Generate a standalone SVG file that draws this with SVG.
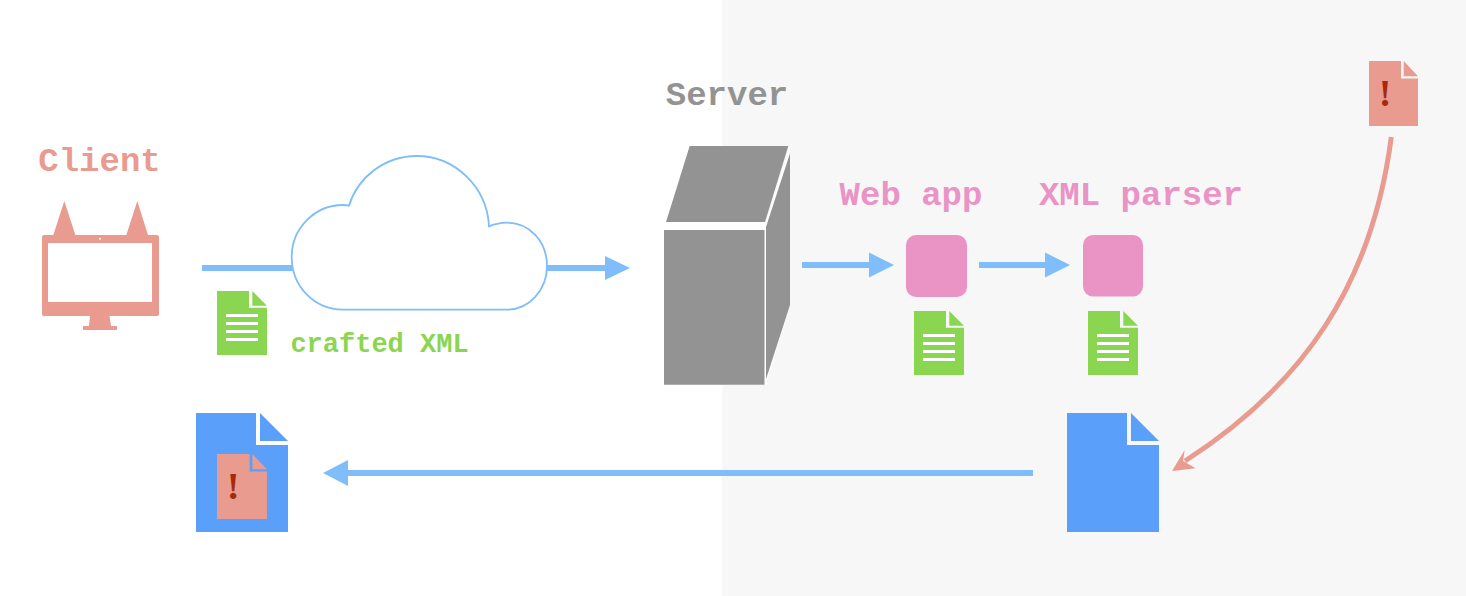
<svg xmlns="http://www.w3.org/2000/svg" xmlns:xlink="http://www.w3.org/1999/xlink" width="1466" height="596" viewBox="0 0 1466 596">
<style>
.lbl{font-family:"Liberation Mono","Courier New",monospace;font-weight:700;font-size:34px;text-anchor:middle}
.flow{fill:none;stroke:#7fbdfb;stroke-width:6}
.head{fill:#7fbdfb}
.ex{font-family:"Liberation Serif","Times New Roman",serif;font-weight:700;font-size:38px;fill:#a52a10;text-anchor:middle}
</style>
<defs>
<g id="greendoc">
<path d="M0 0H32V16.700H50V64H0Z" fill="#8bd650"/>
<path d="M35.300 0L50 14.700H35.300Z" fill="#8bd650"/>
<path d="M9 23H41V26H9ZM9 31H41V34H9ZM9 39H41V42H9ZM9 47H41V50H9Z" fill="#fff"/>
</g>
<g id="reddoc">
<path d="M0 0H32V17.500H49V65H0Z" fill="#e99b8f"/>
<path d="M34.700 0L49 15.300H34.700Z" fill="#e99b8f"/>
<text class="ex" x="16" y="45">!</text>
</g>
<g id="bluedoc">
<path d="M0 0H60V32H92V119H0Z" fill="#5a9ff9"/>
<path d="M64 0L92 28H64Z" fill="#5a9ff9"/>
</g>
</defs>
<rect width="1466" height="596" fill="#fff"/>
<rect x="722" width="744" height="596" fill="#f7f7f7"/>
<g id="connectors">
<path class="flow" d="M202 268H295"/>
<path class="flow" d="M545 268H606"/>
<path class="head" d="M605 256L630 268L605 280Z"/>
<path class="flow" d="M802 265H870"/>
<path class="head" d="M869 252.500L894 265L869 277.500Z"/>
<path class="flow" d="M979 265H1046"/>
<path class="head" d="M1045 252.500L1070 265L1045 277.500Z"/>
<path class="flow" d="M1033 473H347"/>
<path class="head" d="M348 460L323 473L348 486Z"/>
<path d="M1391.300 137C1372 285 1303 385 1185 461" fill="none" stroke="#e99b8f" stroke-width="5"/>
<path d="M1172 471L1184.700 450L1183 461L1195.700 468.300Z" fill="#e99b8f"/>
</g>
<g id="client">
<text class="lbl" x="99.500" y="171" fill="#e99b8f">Client</text>
<path d="M64.300 201L75.700 236H53ZM137.300 201L148.300 236H126Z" fill="#e99b8f"/>
<path fill-rule="evenodd" fill="#e99b8f" d="M44 235H157a2 2 0 0 1 2 2V314a2 2 0 0 1-2 2H44a2 2 0 0 1-2-2V237a2 2 0 0 1 2-2ZM48 243V302H152V243Z"/>
<path d="M90 316H109.500L111 326H117V330H83V326H89Z" fill="#e99b8f"/>
<circle cx="100" cy="238.700" r="1" fill="#fff"/>
</g>
<g id="cloud">
<path d="M343 309.700C314 309.700 291.700 286 291.700 257C291.700 228 315 205 343 205Q346 205 349 205.700C358 177 385 156 416.700 156C455 156 487 187 489 226.300C495 224 500 222.700 506.700 222.700C529 222.700 547 241 547 266C547 290 529 309.700 506.700 309.700Z" fill="#fff" stroke="#7fbdfb" stroke-width="1.800"/>
</g>
<g id="crafted-xml">
<use href="#greendoc" x="217" y="291"/>
<text class="lbl" x="379.500" y="352" fill="#8bd650" style="font-size:27px">crafted XML</text>
</g>
<g id="server">
<text class="lbl" x="727" y="105" fill="#939393">Server</text>
<path d="M664 222H766L790 146V305L766 384.700H664Z" fill="#fff"/>
<path d="M689.700 146H788.300L765 222H666Z" fill="#939393"/>
<path d="M664 230H764.500V384.700H664Z" fill="#939393"/>
<path d="M790 153.300V305L766 379.300V227Z" fill="#939393"/>
</g>
<g id="web-app">
<text class="lbl" x="911" y="205" fill="#e994c5">Web app</text>
<rect x="906" y="235" width="61" height="62" rx="10" fill="#e994c5"/>
<use href="#greendoc" x="914" y="311"/>
</g>
<g id="xml-parser">
<text class="lbl" x="1141" y="205" fill="#e994c5">XML parser</text>
<rect x="1083" y="235" width="60" height="61.500" rx="10" fill="#e994c5"/>
<use href="#greendoc" x="1088" y="311"/>
</g>
<g id="response-client">
<use href="#bluedoc" x="196" y="413"/>
<use href="#reddoc" transform="translate(217 454) scale(1.020 1)"/>
</g>
<g id="response-server">
<use href="#bluedoc" x="1067" y="413"/>
</g>
<g id="payload">
<use href="#reddoc" x="1369" y="61"/>
</g>
</svg>
